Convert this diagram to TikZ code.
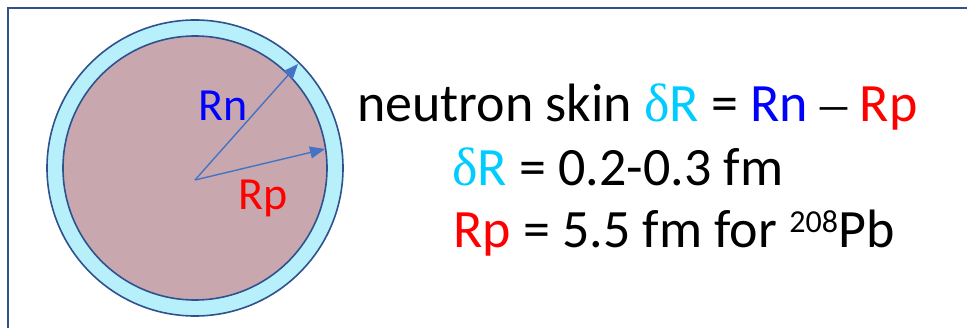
\documentclass[tikz,border=0pt]{standalone}
\usepackage{fontspec}
\setmainfont{Carlito}
\newfontfamily\grk{Liberation Serif}
\usetikzlibrary{arrows.meta}
\definecolor{framec}{RGB}{47,82,143}
\definecolor{skinc}{RGB}{183,240,250}
\definecolor{corec}{RGB}{200,168,174}
\definecolor{arrc}{RGB}{68,114,196}
\definecolor{dcyan}{RGB}{0,204,255}
\definecolor{nblue}{RGB}{0,0,255}
\definecolor{pred}{RGB}{255,0,0}
\tikzset{
  txt/.style={anchor=base west, inner sep=0pt, font=\fontsize{54}{62}\selectfont},
  lbl/.style={inner sep=0pt, font=\fontsize{46}{54}\selectfont},
  radarrow/.style={draw=arrc, line width=1.4pt, -{Triangle[length=15pt,width=12pt]}},
}
\newcommand{\dR}{\textcolor{dcyan}{{\grk δ}R}}
\begin{document}
\begin{tikzpicture}[x=1pt,y=-1pt]
\useasboundingbox (0,0) rectangle (967,328);
% frame
\draw[framec, line width=2pt] (8,330) -- (8,8) -- (970,8);
% nucleus
\node[circle, draw=framec, line width=1.6pt, fill=skinc, minimum size=296pt, inner sep=0pt] (outer) at (195,168) {};
\node[circle, draw=framec, line width=1.6pt, fill=corec, minimum size=264pt, inner sep=0pt] (inner) at (195,168) {};
\coordinate (c) at (195,180);
\coordinate (rnend) at (298,64);
\coordinate (rpend) at (325,149);
\draw[radarrow] (c) -- (rnend);
\draw[radarrow] (c) -- (rpend);
\node[lbl, text=nblue] (rn) at (223,106) {Rn};
\node[lbl, text=pred] (rp) at (263,198) {Rp};
% text
\node[txt] (l1) at (357,122) {neutron skin \dR{} = \textcolor{nblue}{Rn} {\grk –} \textcolor{pred}{Rp}};
\node[txt] (l2) at (452,186) {\dR{} = 0.2-0.3 fm};
\node[txt] (l3) at (453,248) {\textcolor{pred}{Rp} = 5.5 fm for \raisebox{15pt}{\fontsize{32}{32}\selectfont 208}Pb};
\end{tikzpicture}
\end{document}
